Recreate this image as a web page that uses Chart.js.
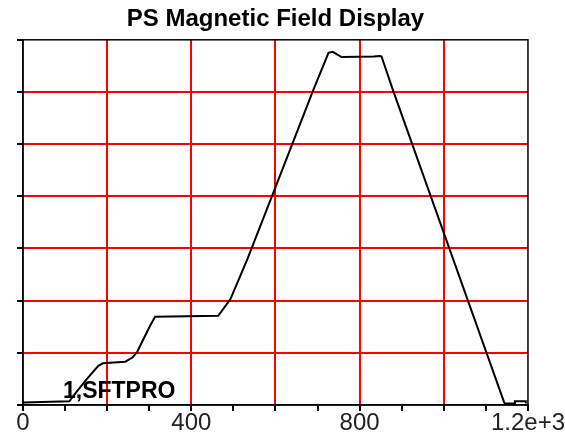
<!DOCTYPE html>
<html lang="en">
<head>
    <meta charset="utf-8">
    <script src="https://cdn.jsdelivr.net/npm/chart.js@4/dist/chart.umd.min.js"></script>
    <style>
        body { margin: 0; background: #fff; }
        .box { position: relative; width: 565px; height: 436px; }
    </style>
</head>
<body>

<div class="box">
    <canvas id="myChart" width="565" height="436"></canvas>
</div>

<script>
    // cycle time (ms) and field (arbitrary units)
    var timeMs = [0, 110, 129, 152, 179, 190, 243, 260, 271, 286, 302, 314, 464, 493, 533, 595, 690, 726, 736, 757, 833, 848, 852, 879, 1143, 1145, 1169, 1169, 1195, 1195];
    var field  = [0.05, 0.07, 0.27, 0.50, 0.75, 0.80, 0.83, 0.91, 1.01, 1.26, 1.52, 1.69, 1.71, 2.03, 2.79, 4.07, 6.04, 6.75, 6.77, 6.67, 6.68, 6.69, 6.68, 6.04, 0.06, 0.03, 0.03, 0.07, 0.07, 0.03];
    var xTickLabels = {0: "0", 400: "400", 800: "800", 1200: "1.2e+3"};
    var cycleName = "1,SFTPRO";

    var points = [];
    for (var i = 0; i < timeMs.length; i++) {
        points.push({x: timeMs[i], y: field[i]});
    }

    // frame round the plot and the cycle name
    var framePlugin = {
        id: 'frame',
        afterDatasetsDraw: function (chart) {
            var c = chart.ctx, a = chart.chartArea;
            var xs = chart.scales.x, ys = chart.scales.y;
            c.save();
            c.strokeStyle = '#000';
            c.lineWidth = 1.5;
            c.strokeRect(a.left, a.top, a.right - a.left, a.bottom - a.top);
            c.fillStyle = '#000';
            c.font = 'bold 23px "Liberation Sans", Arial, sans-serif';
            c.textAlign = 'left';
            c.textBaseline = 'alphabetic';
            c.fillText(cycleName, xs.getPixelForValue(95), ys.getPixelForValue(0.13));
            c.restore();
        }
    };

    function redGrid(lo, hi, step) {
        return function (c) {
            var v = c.tick && c.tick.value;
            return (Math.round(v) % step === 0 && v > lo && v < hi) ? 'rgb(255,0,0)' : 'rgba(255,255,255,0)';
        };
    }

    var ctx = document.getElementById("myChart").getContext("2d");
    var myChart = new Chart(ctx, {
        type: 'scatter',
        data: {
            datasets: [{
                data: points,
                showLine: true,
                borderColor: '#000',
                borderWidth: 2,
                pointRadius: 0,
                tension: 0
            }]
        },
        options: {
            responsive: false,
            animation: false,
            layout: {padding: {left: 17, right: 0, top: 0, bottom: 1}},
            plugins: {
                legend: {display: false},
                tooltip: {enabled: false},
                title: {
                    display: true,
                    text: 'PS Magnetic Field Display',
                    fullSize: false,
                    color: '#000',
                    font: {family: '"Liberation Sans", Arial, sans-serif', size: 24, weight: 'bold', lineHeight: 1.2},
                    padding: {top: 5, bottom: 6}
                }
            },
            scales: {
                x: {
                    type: 'linear',
                    min: 0,
                    max: 1200,
                    border: {color: '#000', width: 1.5},
                    grid: {
                        color: redGrid(0, 1200, 200),
                        tickColor: '#000',
                        tickLength: 6,
                        lineWidth: 2
                    },
                    ticks: {
                        stepSize: 100,
                        autoSkip: false,
                        maxRotation: 0,
                        padding: 0,
                        color: '#222',
                        font: {family: '"Liberation Sans", Arial, sans-serif', size: 24, lineHeight: 1},
                        callback: function (v) {
                            return xTickLabels[v] !== undefined ? xTickLabels[v] : '';
                        }
                    }
                },
                y: {
                    min: 0,
                    max: 7,
                    border: {color: '#000', width: 1.5},
                    grid: {
                        color: redGrid(0, 7, 1),
                        tickColor: '#000',
                        tickLength: 6,
                        lineWidth: 2
                    },
                    ticks: {stepSize: 1, display: false}
                }
            }
        },
        plugins: [framePlugin]
    });
</script>

</body>
</html>
